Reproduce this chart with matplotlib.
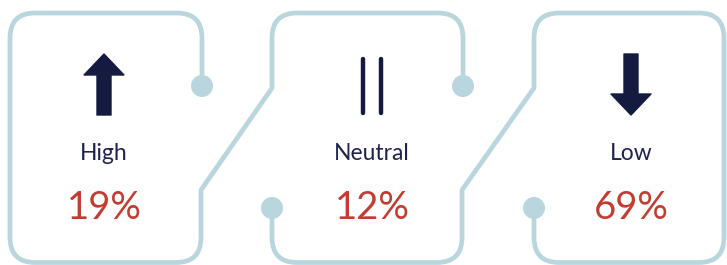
"""Three-box sentiment infographic: share of High / Neutral / Low answers."""

import matplotlib
matplotlib.use('Agg')
from matplotlib import pyplot
from matplotlib.path import Path
from matplotlib.patches import PathPatch, Circle, Polygon

labels = ['High', 'Neutral', 'Low']
shares = [19, 12, 69]
trends = ['up', 'flat', 'down']

frame_color = '#b9d5dd'
icon_color = '#141a40'
label_color = '#1f2350'
value_color = '#c23c31'

W, H = 727, 265
centers = [104, 372, 631]


def rounded_path(points):
    """Polyline through (x, y, r) points, corners rounded with radius r."""
    verts, codes = [points[0][:2]], [Path.MOVETO]
    for (px, py, _), (cx, cy, r), (nx, ny, _) in zip(points[:-2], points[1:-1],
                                                     points[2:]):
        if r == 0:
            verts.append((cx, cy))
            codes.append(Path.LINETO)
            continue
        d1 = ((cx - px) ** 2 + (cy - py) ** 2) ** 0.5
        d2 = ((nx - cx) ** 2 + (ny - cy) ** 2) ** 0.5
        a = (cx + (px - cx) * r / d1, cy + (py - cy) * r / d1)
        b = (cx + (nx - cx) * r / d2, cy + (ny - cy) * r / d2)
        verts += [a, (cx, cy), b]
        codes += [Path.LINETO, Path.CURVE3, Path.CURVE3]
    verts.append(points[-1][:2])
    codes.append(Path.LINETO)
    return Path(verts, codes)


fig = pyplot.figure(figsize=(W / 100, H / 100), dpi=100)
ax = fig.add_axes([0, 0, 1, 1])
ax.set_xlim(0, W)
ax.set_ylim(H, 0)
ax.axis('off')

# Frame lines (two continuous traces).
top, bottom, rad = 13, 262.5, 25
trace_a = [(202, 86, 0), (202, top, rad), (10, top, rad), (10, bottom, rad),
           (201, bottom, rad), (201, 190, 0), (272, 88, 0), (272, top, rad),
           (463, top, rad), (463, 86, 0)]
trace_b = [(272, 208, 0), (272, bottom, rad), (462, bottom, rad),
           (462, 190, 0), (534, 88, 0), (534, top, rad), (724, top, rad),
           (724, bottom, rad), (534, bottom, rad), (534, 208, 0)]
for trace in (trace_a, trace_b):
    ax.add_patch(PathPatch(rounded_path(trace), fill=False,
                           edgecolor=frame_color, lw=3.4,
                           capstyle='butt', joinstyle='round'))
for x, y in [(202, 86), (463, 86), (272, 208), (534, 208)]:
    ax.add_patch(Circle((x, y), 11, color=frame_color, lw=0))

# Icons, labels and values.
for cx, label, share, trend in zip(centers, labels, shares, trends):
    if trend == 'up':
        ax.add_patch(Polygon([(cx, 54), (cx + 20, 75), (cx + 7, 75),
                              (cx + 7, 115), (cx - 7, 115), (cx - 7, 75),
                              (cx - 20, 75)], closed=True, color=icon_color,
                             joinstyle='round', lw=1))
    elif trend == 'down':
        ax.add_patch(Polygon([(cx, 115), (cx + 20, 94), (cx + 7, 94),
                              (cx + 7, 54), (cx - 7, 54), (cx - 7, 94),
                              (cx - 20, 94)], closed=True, color=icon_color,
                             joinstyle='round', lw=1))
    else:
        for dx in (-9, 9):
            ax.plot([cx + dx, cx + dx], [59, 113], color=icon_color, lw=3.2,
                    solid_capstyle='round')
    ax.text(cx, 154, label, ha='center', va='center', color=label_color,
            fontsize=16.5, family='Lato', fontweight='normal')
    ax.text(cx, 208, f'{share}%', ha='center', va='center',
            color=value_color, fontsize=27.5, family='Lato')

fig.savefig('out.png', dpi=100)
